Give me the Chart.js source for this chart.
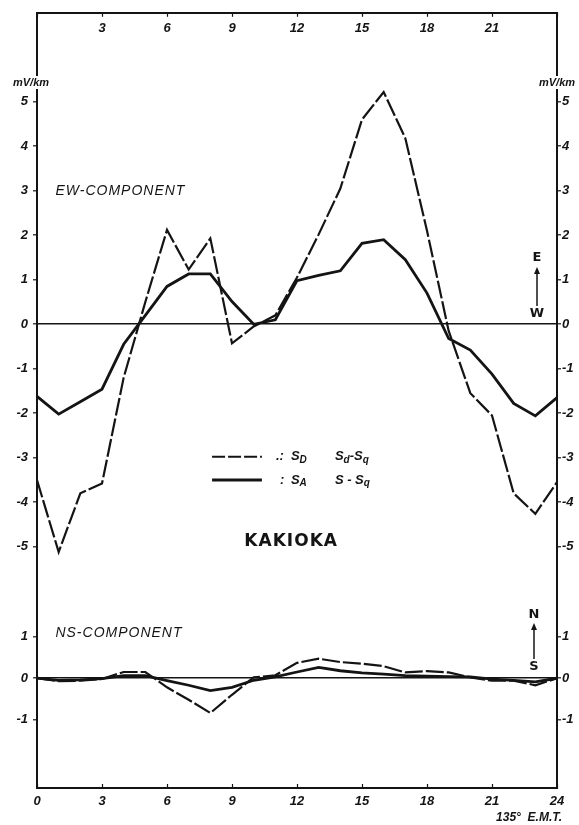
<!DOCTYPE html>
<html>
<head>
<meta charset="utf-8">
<style>
  html, body { margin: 0; padding: 0; background: #fff; }
  #wrap { width: 579px; height: 825px; }
</style>
<script src="https://cdn.jsdelivr.net/npm/chart.js@4.4.1/dist/chart.umd.min.js"></script>
</head>
<body>
<div id="wrap"><canvas id="chart" width="579" height="825"></canvas></div>
<script>
// hourly values, 135° E.M.T.
const hours = [0, 1, 2, 3, 4, 5, 6, 7, 8, 9, 10, 11, 12, 13, 14, 15, 16, 17, 18, 19, 20, 21, 22, 23, 24];

// EW-component (mV/km)
const ewSD = [-3.5, -5.12, -3.8, -3.58, -1.2, 0.5, 2.12, 1.23, 1.93, -0.43, -0.05, 0.2, 1.05, 2.02, 3.05, 4.6, 5.22, 4.18, 2.1, -0.15, -1.55, -2.05, -3.8, -4.26, -3.55];
const ewSA = [-1.62, -2.02, -1.74, -1.46, -0.45, 0.2, 0.85, 1.13, 1.13, 0.51, 0.0, 0.1, 0.98, 1.1, 1.2, 1.82, 1.9, 1.45, 0.7, -0.32, -0.58, -1.12, -1.78, -2.06, -1.65];

// NS-component (mV/km)
const nsSD = [0, -0.07, -0.06, -0.02, 0.15, 0.15, -0.22, -0.52, -0.84, -0.4, 0.02, 0.07, 0.37, 0.47, 0.39, 0.35, 0.29, 0.14, 0.17, 0.14, 0.02, -0.06, -0.06, -0.17, 0];
const nsSA = [0, -0.05, -0.04, -0.01, 0.06, 0.06, -0.06, -0.17, -0.3, -0.22, -0.05, 0.03, 0.15, 0.26, 0.18, 0.13, 0.1, 0.06, 0.05, 0.04, 0.03, -0.02, -0.05, -0.09, 0];

const hourTicks = [0, 3, 6, 9, 12, 15, 18, 21, 24];
const topHourTicks = [3, 6, 9, 12, 15, 18, 21];
const ewTicks = [-5, -4, -3, -2, -1, 0, 1, 2, 3, 4, 5];
const nsTicks = [-1, 0, 1];

const INK = '#141414';
const tickFont = { family: 'Liberation Sans', style: 'italic', weight: 'bold', size: 13 };

function points(values) {
  return hours.map((h, i) => ({ x: h, y: values[i] }));
}

function fixedTicks(list) {
  return (scale) => {
    scale.ticks = list.map((v) => ({ value: v }));
  };
}

function yAxis(position, stack, weight, stackWeight, min, max, list, zeroLine) {
  return {
    type: 'linear',
    position,
    stack,
    weight,
    stackWeight,
    min,
    max,
    afterBuildTicks: fixedTicks(list),
    afterFit: (scale) => { scale.width = position === 'left' ? 37 : 22; },
    grid: {
      drawOnChartArea: zeroLine,
      color: (ctx) => (ctx.tick && ctx.tick.value === 0 ? INK : 'rgba(0,0,0,0)'),
      lineWidth: 1.6,
      tickColor: INK,
      tickWidth: 1.2,
      tickLength: 4,
    },
    border: { color: INK, width: 2 },
    ticks: {
      color: INK,
      font: tickFont,
      padding: position === 'left' ? 5 : 1,
      callback: (v) => String(v),
    },
  };
}

function xAxis(position) {
  const top = position === 'top';
  return {
    type: 'linear',
    position,
    min: 0,
    max: 24,
    afterBuildTicks: fixedTicks(hourTicks),
    afterFit: (scale) => { scale.height = top ? 12 : 37; },
    grid: { drawOnChartArea: false, color: INK, tickLength: -4, tickWidth: 1.2 },
    border: { color: INK, width: 2 },
    ticks: {
      display: !top,
      color: INK,
      font: tickFont,
      autoSkip: false,
      maxRotation: 0,
      padding: 10,
      callback: (v) => String(v),
    },
  };
}

function drawParts(ctx, parts, x, y, size) {
  let cx = x;
  for (const [text, sub] of parts) {
    ctx.font = `italic bold ${sub ? size - 3 : size}px "Liberation Sans"`;
    ctx.fillText(text, cx, sub ? y + 3 : y);
    cx += ctx.measureText(text).width;
  }
}

function arrow(ctx, x, yFrom, yTo) {
  ctx.beginPath();
  ctx.moveTo(x, yFrom);
  ctx.lineTo(x, yTo + 3);
  ctx.stroke();
  ctx.beginPath();
  ctx.moveTo(x, yTo);
  ctx.lineTo(x - 3, yTo + 7);
  ctx.lineTo(x + 3, yTo + 7);
  ctx.closePath();
  ctx.fill();
}

const figureText = {
  id: 'figureText',
  afterDraw(chart) {
    const { ctx } = chart;
    const x = chart.scales.x;
    const xTop = chart.scales.xTop;
    const ew = chart.scales.yEW;
    const ns = chart.scales.yNS;
    ctx.save();
    ctx.fillStyle = INK;
    ctx.strokeStyle = INK;
    ctx.textBaseline = 'middle';

    // hour labels sitting just under the top frame line
    ctx.font = 'italic bold 13px "Liberation Sans"';
    ctx.textAlign = 'center';
    for (const h of topHourTicks) {
      ctx.fillText(String(h), xTop.getPixelForValue(h), xTop.bottom + 16);
    }

    // panel titles
    ctx.font = 'italic 14px "Liberation Sans"';
    ctx.letterSpacing = '1px';
    ctx.textAlign = 'left';
    ctx.fillText('EW-COMPONENT', x.getPixelForValue(0.85), ew.getPixelForValue(3.0));
    ctx.fillText('NS-COMPONENT', x.getPixelForValue(0.85), ns.getPixelForValue(1.1));

    ctx.font = 'bold 17px "DejaVu Sans"';
    ctx.textAlign = 'center';
    ctx.fillText('KAKIOKA', x.getPixelForValue(11.73), ew.getPixelForValue(-4.89));
    ctx.letterSpacing = '0px';

    // legend
    const lx0 = x.getPixelForValue(8.08);
    const lx1 = x.getPixelForValue(10.38);
    const yD = ew.getPixelForValue(-2.98);
    const yA = ew.getPixelForValue(-3.5);
    ctx.lineWidth = 2;
    ctx.setLineDash([13, 3]);
    ctx.beginPath(); ctx.moveTo(lx0, yD); ctx.lineTo(lx1, yD); ctx.stroke();
    ctx.setLineDash([]);
    ctx.lineWidth = 3;
    ctx.beginPath(); ctx.moveTo(lx0, yA); ctx.lineTo(lx1, yA); ctx.stroke();

    ctx.textAlign = 'left';
    drawParts(ctx, [['.:', false]], lx1 + 14, yD, 13);
    drawParts(ctx, [[':', false]], lx1 + 18, yA, 13);
    drawParts(ctx, [['S', false], ['D', true]], lx1 + 29, yD, 13);
    drawParts(ctx, [['S', false], ['A', true]], lx1 + 29, yA, 13);
    drawParts(ctx, [['S', false], ['d', true], ['-', false], ['S', false], ['q', true]], lx1 + 73, yD, 13);
    drawParts(ctx, [['S', false], [' - ', false], ['S', false], ['q', true]], lx1 + 73, yA, 13);

    // units
    ctx.textAlign = 'center';
    ctx.font = 'italic bold 11px "Liberation Sans"';
    for (const cx of [31, 557]) {
      ctx.fillStyle = '#fff';
      ctx.fillRect(cx - 20, 76, 40, 13);
      ctx.fillStyle = INK;
      ctx.fillText('mV/km', cx, 83);
    }

    // direction arrows
    ctx.font = 'bold 13px "DejaVu Sans"';
    ctx.lineWidth = 1.5;
    ctx.fillText('E', 537, 258);
    arrow(ctx, 537, 306, 267);
    ctx.fillText('W', 537, 314);
    ctx.fillText('N', 534, 615);
    arrow(ctx, 534, 659, 623);
    ctx.fillText('S', 534, 667);

    // time reference
    ctx.textAlign = 'right';
    ctx.font = 'italic bold 12px "Liberation Sans"';
    ctx.fillText('135°  E.M.T.', 562, 818);
    ctx.restore();
  },
};

function line(values, axis, dashed) {
  return {
    data: points(values),
    yAxisID: axis,
    xAxisID: 'x',
    borderColor: INK,
    borderWidth: dashed ? 2.2 : 2.8,
    borderDash: dashed ? [18, 3] : [],
    pointRadius: 0,
    tension: 0,
    fill: false,
  };
}

new Chart(document.getElementById('chart'), {
  type: 'line',
  data: {
    datasets: [
      line(ewSD, 'yEW', true),
      line(ewSA, 'yEW', false),
      line(nsSD, 'yNS', true),
      line(nsSA, 'yNS', false),
    ],
  },
  options: {
    responsive: false,
    animation: false,
    devicePixelRatio: 1,
    layout: { padding: 0 },
    plugins: { legend: { display: false }, tooltip: { enabled: false } },
    scales: {
      x: xAxis('bottom'),
      xTop: xAxis('top'),
      yNS: yAxis('left', 'left', 0, 197, -2.65, 2.1, nsTicks, true),
      yEW: yAxis('left', 'left', 1, 579, -6, 7, ewTicks, true),
      yEWr: yAxis('right', 'right', 0, 579, -6, 7, ewTicks, false),
      yNSr: yAxis('right', 'right', 1, 197, -2.65, 2.1, nsTicks, false),
    },
  },
  plugins: [figureText],
});
</script>
</body>
</html>
